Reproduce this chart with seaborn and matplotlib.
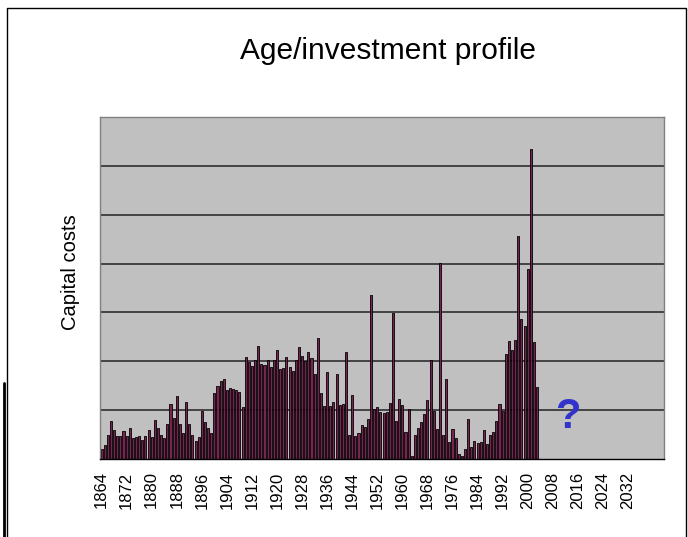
import numpy as np
import pandas as pd
import matplotlib
matplotlib.use("Agg")
import matplotlib.pyplot as plt
from matplotlib.lines import Line2D
import seaborn as sns

# ---- data (1 unit = one grid step) ----
years = list(range(1864, 2004))
capital_costs = [
    0.20, 0.29, 0.49, 0.77, 0.60, 0.48, 0.48, 0.58, 0.48, 0.63,
    0.42, 0.46, 0.48, 0.39, 0.48, 0.60, 0.45, 0.79, 0.64, 0.49,
    0.42, 0.71, 1.13, 0.84, 1.29, 0.71, 0.53, 1.16, 0.71, 0.49,
    0.37, 0.45, 0.99, 0.75, 0.64, 0.54, 1.35, 1.49, 1.60, 1.64,
    1.42, 1.46, 1.44, 1.42, 1.38, 1.06, 2.08, 1.98, 1.91, 2.02,
    2.31, 1.95, 1.93, 2.03, 1.88, 2.03, 2.23, 1.85, 1.87, 2.08,
    1.89, 1.81, 2.03, 2.29, 2.10, 2.01, 2.19, 2.07, 1.75, 2.47,
    1.35, 1.09, 1.79, 1.09, 1.16, 1.73, 1.10, 1.13, 2.20, 0.49,
    1.30, 0.48, 0.54, 0.69, 0.66, 0.81, 3.35, 1.03, 1.06, 0.97,
    0.95, 0.97, 1.14, 2.98, 0.77, 1.23, 1.10, 0.56, 1.03, 0.06,
    0.49, 0.64, 0.75, 0.93, 1.21, 2.03, 0.99, 0.61, 4.02, 0.49,
    1.64, 0.34, 0.61, 0.44, 0.10, 0.06, 0.20, 0.81, 0.25, 0.36,
    0.32, 0.34, 0.59, 0.30, 0.49, 0.56, 0.77, 1.13, 0.98, 2.14,
    2.41, 2.23, 2.43, 4.57, 2.87, 2.73, 3.88, 6.34, 2.40, 1.48,
]
axis_years = list(range(1864, 2044))   # category axis runs on past the data
label_years = list(range(1864, 2040, 8))

df = pd.DataFrame({"year": years, "cost": capital_costs})

sns.set_style("white")
plt.rcParams["font.family"] = ["Liberation Sans", "DejaVu Sans"]
plt.rcParams["text.color"] = "black"
plt.rcParams["xtick.color"] = "black"

fig = plt.figure(figsize=(6.88, 5.37), dpi=100)
ax = fig.add_axes([100 / 688, 1 - 459 / 537, 564 / 688, 342 / 537])
ax.set_facecolor("#C0C0C0")

sns.barplot(data=df, x="year", y="cost", order=axis_years, color="#7B2350",
            saturation=1, edgecolor="black", linewidth=0.6, width=0.65,
            errorbar=None, ax=ax)

ax.set_xlim(-0.5, len(axis_years) - 0.5)
ax.set_ylim(0, 7)

# horizontal gridlines
for g in range(1, 7):
    ax.axhline(g, color="#222222", lw=1.1, zorder=0.5)

# labels every 8 years, tick marks every 5 categories
ax.set_xticks([axis_years.index(y) for y in label_years])
ax.set_xticklabels([str(y) for y in label_years], rotation=90, fontsize=12,
                   color="black")
ax.set_xticks(np.arange(-0.5, len(axis_years), 5), minor=True)
ax.tick_params(axis="x", which="major", length=0, pad=9)
ax.tick_params(axis="x", which="minor", length=5, width=1, color="black", direction="out")
ax.set_yticks([])
ax.set_xlabel("")
ax.set_ylabel("")

for side in ["top", "left", "right"]:
    ax.spines[side].set_color("#808080")
    ax.spines[side].set_linewidth(1)
ax.spines["bottom"].set_color("black")
ax.spines["bottom"].set_linewidth(1)

ax.text(148.9, 0.86, "?", color="#3333CC", fontsize=30, fontweight="bold",
        ha="center", va="center")

fig.text(388 / 688, 1 - 59 / 537, "Age/investment profile", fontsize=21.5,
         ha="center", va="baseline", color="black")
fig.text(70 / 688, 1 - 272 / 537, "Capital costs", fontsize=14.5, rotation=90,
         ha="center", va="center", color="black")

# outer frame lines
fig.add_artist(Line2D([6.5 / 688, 6.5 / 688, 685.5 / 688, 685.5 / 688],
                      [0, 1 - 8 / 537, 1 - 8 / 537, 0], color="black", lw=1,
                      transform=fig.transFigure))
fig.add_artist(Line2D([4 / 688, 4 / 688], [0, 1 - 383 / 537], color="black", lw=2,
                      transform=fig.transFigure))

fig.savefig("out.png", dpi=100)
